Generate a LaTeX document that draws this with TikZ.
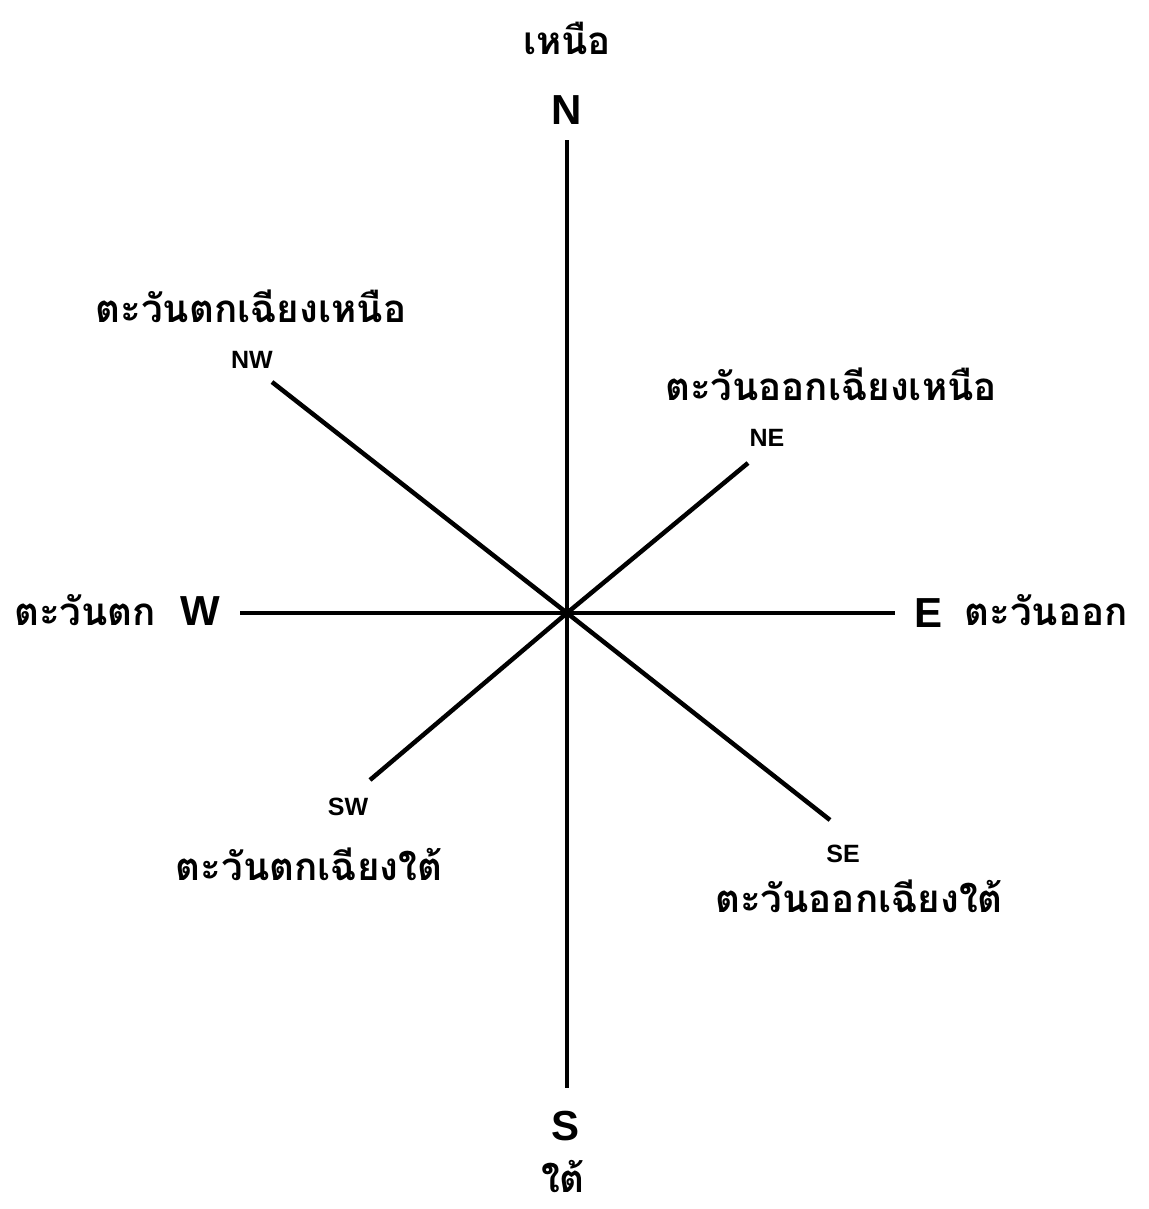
\documentclass[tikz,border=0pt]{standalone}
\usepackage{fontspec}
\setmainfont{Liberation Sans}
\newfontfamily\thaifont[Script=Thai]{Loma}
\usepackage{tikz}
\usetikzlibrary{positioning}

\begin{document}
\begin{tikzpicture}[
  x=1pt,y=-1pt,
  every node/.style={inner sep=0pt,anchor=base},
  big/.style={font=\fontsize{42}{42}\selectfont\bfseries},
  small/.style={font=\fontsize{25}{25}\selectfont\bfseries},
  thai/.style={font=\fontsize{38.5}{38.5}\selectfont\thaifont\bfseries},
  ray/.style={line width=4.5pt},
]
\useasboundingbox (0,0) rectangle (1148,1209);
\coordinate (c) at (567,613);
\coordinate (en) at (567,140);
\coordinate (es) at (567,1088);
\coordinate (ew) at (240,613);
\coordinate (ee) at (895,613);
\coordinate (enw) at (272,382);
\coordinate (ene) at (748,463);
\coordinate (esw) at (370,780);
\coordinate (ese) at (830,820);
\foreach \e in {en,es,ew,ee,enw,ene,esw,ese}
  \draw[ray] (c) -- (\e);

\node[big] (n) at (567,125) {N};
\node[big] (s) at (565,1140) {S};
\node[big] (w) at (200,625) {W};
\node[big] (e) at (928,627) {E};
\node[small] (nw) at (252,368) {NW};
\node[small] (ne) at (767,446) {NE};
\node[small] (sw) at (348,815) {SW};
\node[small] (se) at (843,862) {SE};

\node[thai] (tn) at (567,55) {เหนือ};
\node[thai] (ts) at (563,1192) {ใต้};
\node[thai] (tw) at (85,625) {ตะวันตก};
\node[thai] (te) at (1046,625) {ตะวันออก};
\node[thai] (tnw) at (251,322) {ตะวันตกเฉียงเหนือ};
\node[thai] (tne) at (831,400) {ตะวันออกเฉียงเหนือ};
\node[thai] (tsw) at (309,880) {ตะวันตกเฉียงใต้};
\node[thai] (tse) at (859,912) {ตะวันออกเฉียงใต้};
\end{tikzpicture}
\end{document}
